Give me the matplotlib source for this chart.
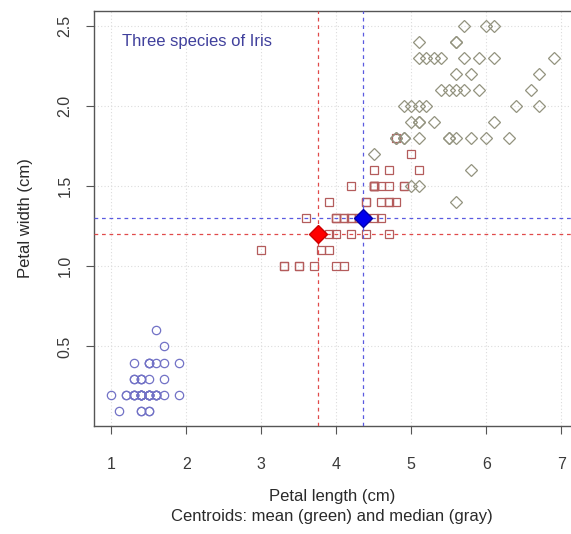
import matplotlib
matplotlib.use("Agg")
import matplotlib.pyplot as plt
import numpy as np

plt.rcParams['font.family'] = ['Liberation Sans', 'DejaVu Sans']

# Iris petal measurements (cm), 50 flowers per species
setosa_length = [1.4, 1.4, 1.3, 1.5, 1.4, 1.7, 1.4, 1.5, 1.4, 1.5,
                 1.5, 1.6, 1.4, 1.1, 1.2, 1.5, 1.3, 1.4, 1.7, 1.5,
                 1.7, 1.5, 1.0, 1.7, 1.9, 1.6, 1.6, 1.5, 1.4, 1.6,
                 1.6, 1.5, 1.5, 1.4, 1.5, 1.2, 1.3, 1.4, 1.3, 1.5,
                 1.3, 1.3, 1.3, 1.6, 1.9, 1.4, 1.6, 1.4, 1.5, 1.4]
setosa_width = [0.2, 0.2, 0.2, 0.2, 0.2, 0.4, 0.3, 0.2, 0.2, 0.1,
                0.2, 0.2, 0.1, 0.1, 0.2, 0.4, 0.4, 0.3, 0.3, 0.3,
                0.2, 0.4, 0.2, 0.5, 0.2, 0.2, 0.4, 0.2, 0.2, 0.2,
                0.2, 0.4, 0.1, 0.2, 0.2, 0.2, 0.2, 0.1, 0.2, 0.2,
                0.3, 0.3, 0.2, 0.6, 0.4, 0.3, 0.2, 0.2, 0.2, 0.2]

versicolor_length = [4.7, 4.5, 4.9, 4.0, 4.6, 4.5, 4.7, 3.3, 4.6, 3.9,
                     3.5, 4.2, 4.0, 4.7, 3.6, 4.4, 4.5, 4.1, 4.5, 3.9,
                     4.8, 4.0, 4.9, 4.7, 4.3, 4.4, 4.8, 5.0, 4.5, 3.5,
                     3.8, 3.7, 3.9, 5.1, 4.5, 4.5, 4.7, 4.4, 4.1, 4.0,
                     4.4, 4.6, 4.0, 3.3, 4.2, 4.2, 4.2, 4.3, 3.0, 4.1]
versicolor_width = [1.4, 1.5, 1.5, 1.3, 1.5, 1.3, 1.6, 1.0, 1.3, 1.4,
                    1.0, 1.5, 1.0, 1.4, 1.3, 1.4, 1.5, 1.0, 1.5, 1.1,
                    1.8, 1.3, 1.5, 1.2, 1.3, 1.4, 1.4, 1.7, 1.5, 1.0,
                    1.1, 1.0, 1.2, 1.6, 1.5, 1.6, 1.5, 1.3, 1.3, 1.3,
                    1.2, 1.4, 1.2, 1.0, 1.3, 1.2, 1.3, 1.3, 1.1, 1.3]

virginica_length = [6.0, 5.1, 5.9, 5.6, 5.8, 6.6, 4.5, 6.3, 5.8, 6.1,
                    5.1, 5.3, 5.5, 5.0, 5.1, 5.3, 5.5, 6.7, 6.9, 5.0,
                    5.7, 4.9, 6.7, 4.9, 5.7, 6.0, 4.8, 4.9, 5.6, 5.8,
                    6.1, 6.4, 5.6, 5.1, 5.6, 6.1, 5.6, 5.5, 4.8, 5.4,
                    5.6, 5.1, 5.1, 5.9, 5.7, 5.2, 5.0, 5.2, 5.4, 5.1]
virginica_width = [2.5, 1.9, 2.1, 1.8, 2.2, 2.1, 1.7, 1.8, 1.8, 2.5,
                   2.0, 1.9, 2.1, 2.0, 2.4, 2.3, 1.8, 2.2, 2.3, 1.5,
                   2.3, 2.0, 2.0, 1.8, 2.1, 1.8, 1.8, 1.8, 2.1, 1.6,
                   1.9, 2.0, 2.2, 1.5, 1.4, 2.3, 2.4, 1.8, 1.8, 2.1,
                   2.4, 2.3, 1.9, 2.3, 2.5, 2.3, 1.9, 2.0, 2.3, 1.8]

x_ticks = [1, 2, 3, 4, 5, 6, 7]
y_ticks = [0.5, 1.0, 1.5, 2.0, 2.5]


def main():
    all_length = np.array(setosa_length + versicolor_length + virginica_length)
    all_width = np.array(setosa_width + versicolor_width + virginica_width)
    mean_pt = (all_length.mean(), all_width.mean())
    median_pt = (np.median(all_length), np.median(all_width))

    fig = plt.figure(figsize=(5.71, 5.34), dpi=100)
    ax = fig.add_axes([93.5 / 571, 108 / 534, 478 / 571, 415.5 / 534])

    # R-style 4% padding around the data range
    xr = all_length.max() - all_length.min()
    yr = all_width.max() - all_width.min()
    ax.set_xlim(all_length.min() - 0.04 * xr, all_length.max() + 0.04 * xr)
    ax.set_ylim(all_width.min() - 0.04 * yr, all_width.max() + 0.04 * yr)

    # light dotted grid
    for v in x_ticks:
        ax.axvline(v, color='#dcdcdc', lw=0.8, ls=(0, (1, 2)), zorder=0)
    for v in y_ticks:
        ax.axhline(v, color='#dcdcdc', lw=0.8, ls=(0, (1, 2)), zorder=0)

    ax.plot(setosa_length, setosa_width, 'o', mfc='none', mec='#7272c6',
            ms=6, mew=0.9, ls='none')
    ax.plot(versicolor_length, versicolor_width, 's', mfc='none', mec='#b45c5c',
            ms=5.5, mew=0.9, ls='none')
    ax.plot(virginica_length, virginica_width, 'D', mfc='none', mec='#93937f',
            ms=6.5, mew=0.9, ls='none')

    # centroid reference lines
    dash = (0, (3, 3))
    ax.axvline(mean_pt[0], color='#e04a4a', lw=0.9, ls=dash, zorder=3)
    ax.axhline(mean_pt[1], color='#e04a4a', lw=0.9, ls=dash, zorder=3)
    ax.axvline(median_pt[0], color='#5a5ae0', lw=0.9, ls=dash, zorder=3)
    ax.axhline(median_pt[1], color='#5a5ae0', lw=0.9, ls=dash, zorder=3)

    ax.plot(*mean_pt, 'D', color='#ff0000', ms=9.5, mec='#cc0000', zorder=5)
    ax.plot(*median_pt, 'D', color='#0000ee', ms=9.5, mec='#0000aa', zorder=5)

    ax.text(1.15, 2.4, 'Three species of Iris', color='#40409c', fontsize=12,
            ha='left', va='center')

    ax.set_xticks(x_ticks)
    ax.set_xticklabels([str(v) for v in x_ticks])
    ax.set_yticks(y_ticks)
    ax.set_yticklabels([f'{v:.1f}' for v in y_ticks], rotation=90, va='center')
    ax.tick_params(axis='both', direction='out', length=6, width=0.8,
                   color='#555555', labelcolor='#3a3a3a', labelsize=11.5)
    ax.tick_params(axis='x', pad=16)
    ax.tick_params(axis='y', pad=9)
    for s in ax.spines.values():
        s.set_color('#555555')
        s.set_linewidth(1.0)

    ax.set_ylabel('Petal width (cm)', fontsize=12, color='#2a2a2a', labelpad=18)
    fig.text(0.5 * (93.5 + 571) / 571, 1 - 497 / 534, 'Petal length (cm)',
             ha='center', va='center', fontsize=12, color='#2a2a2a')
    fig.text(0.5 * (93.5 + 571) / 571, 1 - 516 / 534,
             'Centroids: mean (green) and median (gray)',
             ha='center', va='center', fontsize=12, color='#2a2a2a')

    fig.savefig('out.png', dpi=100)


if __name__ == "__main__":
    main()
